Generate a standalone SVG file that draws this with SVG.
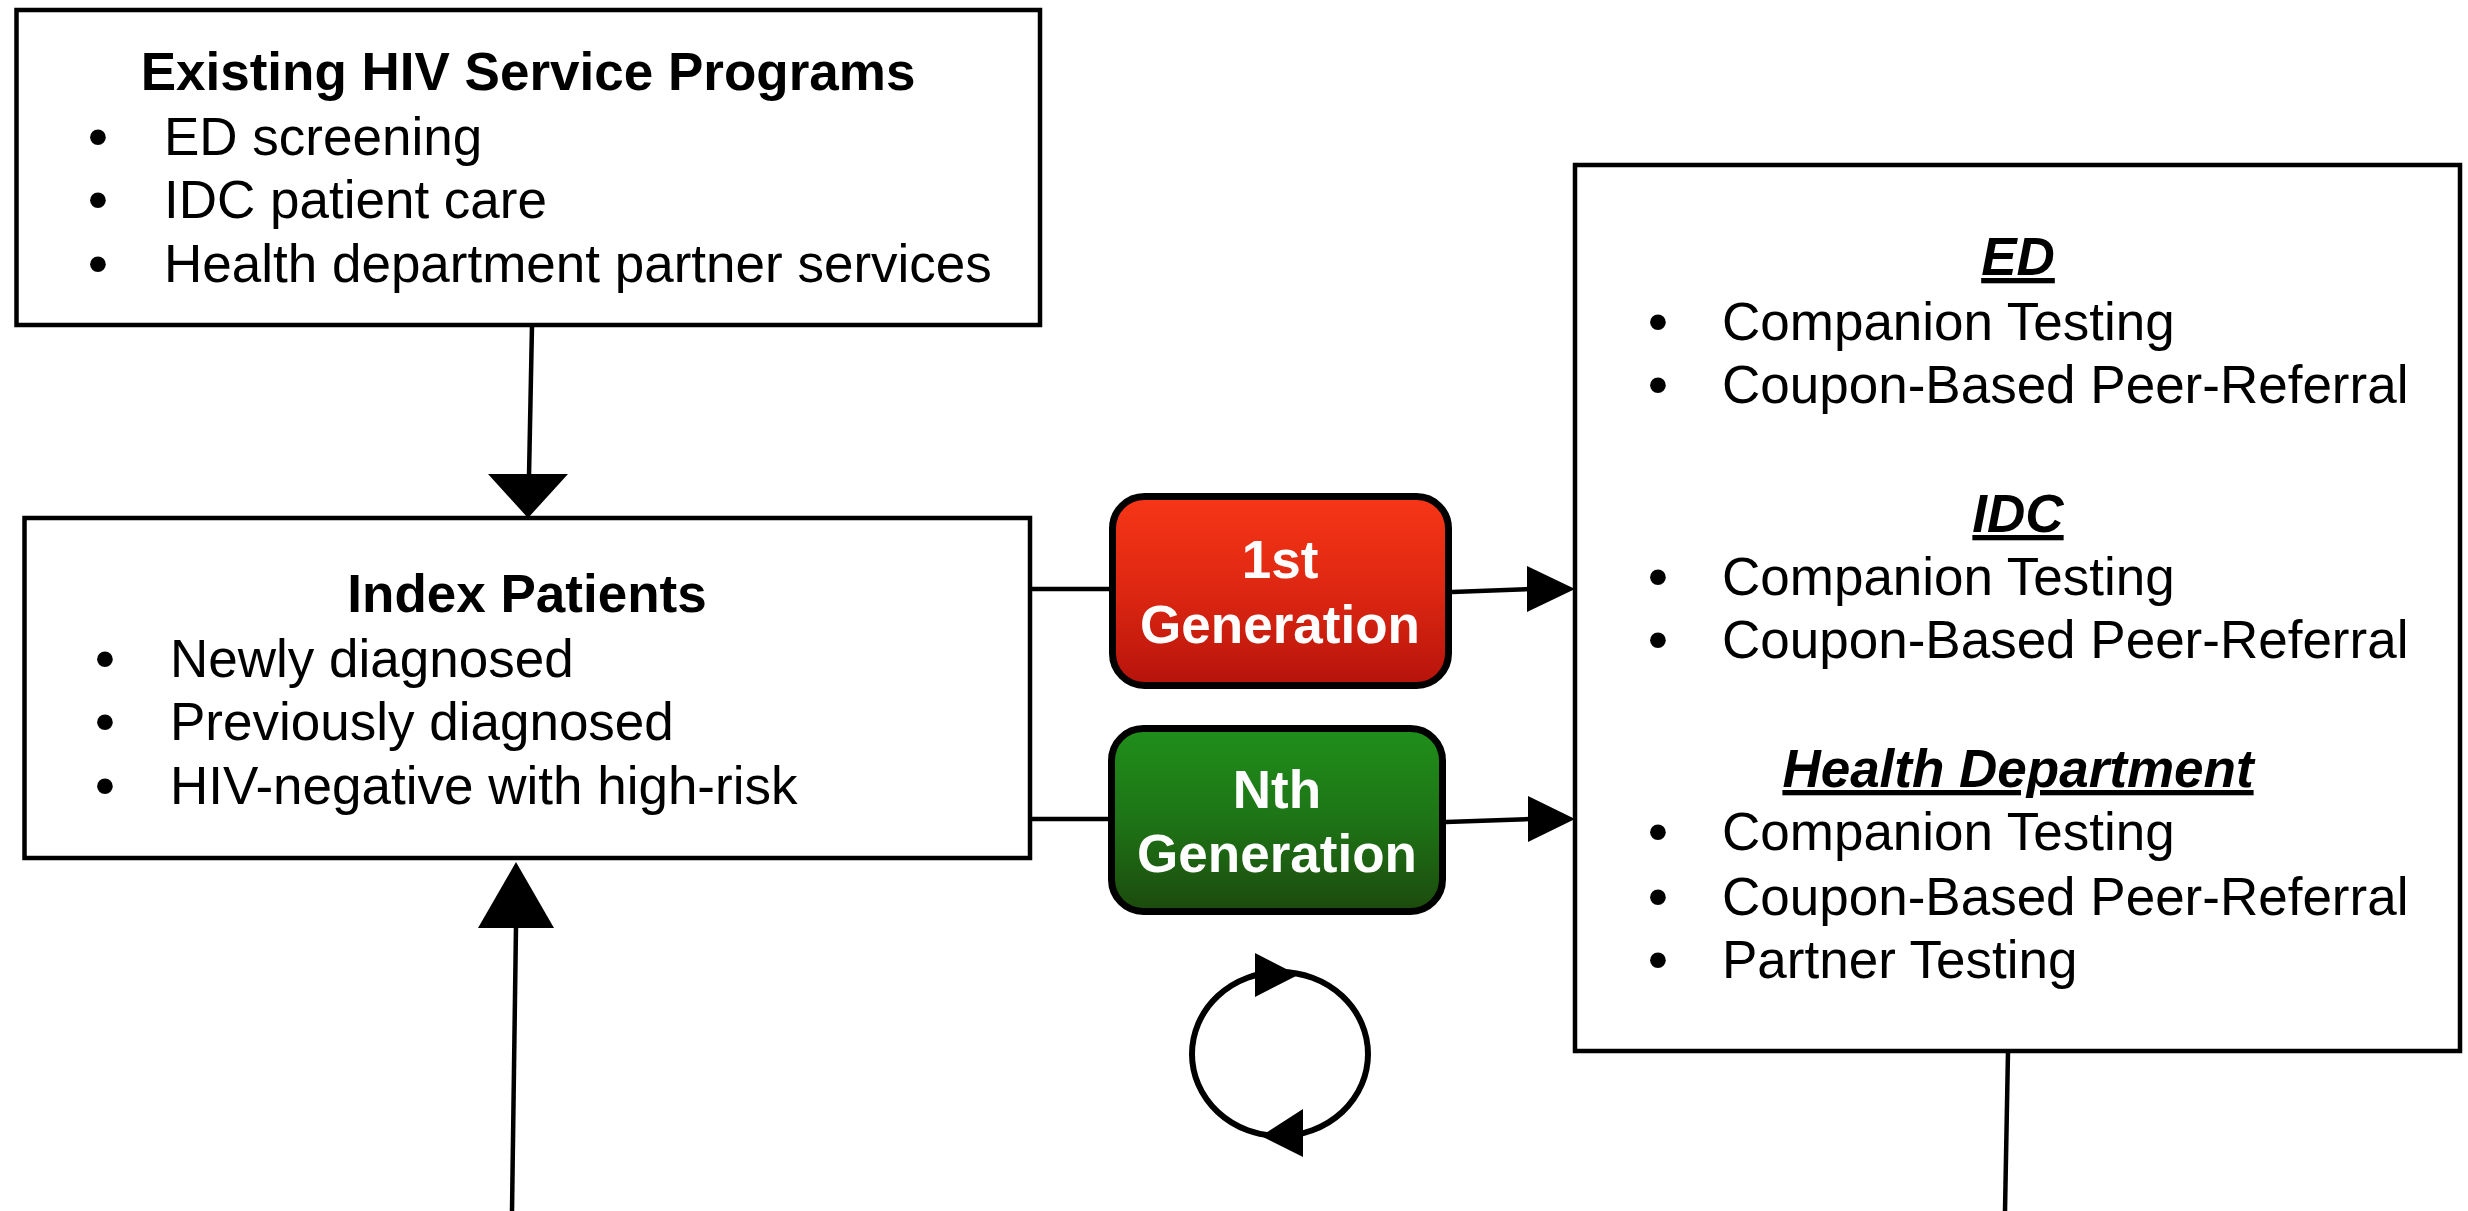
<svg xmlns="http://www.w3.org/2000/svg" width="2468" height="1211" viewBox="0 0 2468 1211">
  <defs>
    <linearGradient id="gRed" x1="0" y1="0" x2="0" y2="1">
      <stop offset="0" stop-color="#F73616"/>
      <stop offset="0.5" stop-color="#DD2712"/>
      <stop offset="1" stop-color="#B6130B"/>
    </linearGradient>
    <linearGradient id="gGreen" x1="0" y1="0" x2="0" y2="1">
      <stop offset="0" stop-color="#1F8F1A"/>
      <stop offset="0.5" stop-color="#1E7416"/>
      <stop offset="1" stop-color="#1C4A0D"/>
    </linearGradient>
    <linearGradient id="gFade" x1="0" y1="0" x2="1" y2="0">
      <stop offset="0" stop-color="#888888"/>
      <stop offset="1" stop-color="#ffffff"/>
    </linearGradient>
  </defs>
  <style>
    .box { fill: #ffffff; stroke: #000000; stroke-width: 4.5; }
    .gen { stroke: #000000; stroke-width: 7; }
    .t { font-family: "Liberation Sans", Arial, sans-serif; font-size: 53px; fill: #000000; }
    .bul { font-family: "DejaVu Sans", sans-serif; font-size: 54px; fill: #000000; }
    .b { font-weight: bold; }
    .hd { font-weight: bold; font-style: italic; text-decoration: underline; }
    .w { fill: #ffffff; font-weight: bold; }
    .mid { text-anchor: middle; }
    .ln { stroke: #000000; stroke-width: 4.5; fill: none; }
    .ah { fill: #000000; }
  </style>
  <rect width="2468" height="1211" fill="#ffffff"/>

  <g id="connectors">
    <line class="ln" x1="532" y1="325" x2="529" y2="476"/>
    <polygon class="ah" points="488,474 568,474 528,518"/>
    <line class="ln" x1="516" y1="926" x2="512" y2="1211"/>
    <polygon class="ah" points="478,928 554,928 516,862"/>
    <line x1="512" y1="1210" x2="730" y2="1210" stroke="url(#gFade)" stroke-width="2"/>
    <line class="ln" x1="1030" y1="589" x2="1110" y2="589"/>
    <line class="ln" x1="1452" y1="592" x2="1530" y2="589"/>
    <polygon class="ah" points="1527,566 1527,612 1575,589"/>
    <line class="ln" x1="1030" y1="819" x2="1109" y2="819"/>
    <line class="ln" x1="1446" y1="822" x2="1530" y2="819"/>
    <polygon class="ah" points="1528,796 1528,842 1575,819"/>
    <line class="ln" x1="2008" y1="1051" x2="2005" y2="1211"/>
    <ellipse cx="1280" cy="1054" rx="88" ry="82" fill="none" stroke="#000000" stroke-width="6"/>
    <polygon class="ah" points="1255,953 1255,997 1298,975"/>
    <polygon class="ah" points="1303,1109 1303,1157 1261,1136"/>
  </g>

  <g id="existing-programs">
    <rect class="box" x="16.5" y="10" width="1023.5" height="315"/>
    <text class="t b mid" x="528" y="90">Existing HIV Service Programs</text>
    <text class="bul" x="82" y="157">•</text>
    <text class="t" x="164" y="155">ED screening</text>
    <text class="bul" x="82" y="220">•</text>
    <text class="t" x="164" y="218">IDC patient care</text>
    <text class="bul" x="82" y="284">•</text>
    <text class="t" x="164" y="282">Health department partner services</text>
  </g>

  <g id="index-patients">
    <rect class="box" x="24.5" y="518" width="1005.5" height="340"/>
    <text class="t b mid" x="527" y="612">Index Patients</text>
    <text class="bul" x="89" y="679">•</text>
    <text class="t" x="170" y="677">Newly diagnosed</text>
    <text class="bul" x="89" y="742">•</text>
    <text class="t" x="170" y="740">Previously diagnosed</text>
    <text class="bul" x="89" y="806">•</text>
    <text class="t" x="170" y="804">HIV-negative with high-risk</text>
  </g>

  <g id="first-generation">
    <rect class="gen" x="1112.5" y="496.5" width="336" height="189" rx="32" ry="32" fill="url(#gRed)"/>
    <text class="t w mid" x="1280" y="578">1st</text>
    <text class="t w mid" x="1280" y="643">Generation</text>
  </g>

  <g id="nth-generation">
    <rect class="gen" x="1111.5" y="728.5" width="331" height="183" rx="32" ry="32" fill="url(#gGreen)"/>
    <text class="t w mid" x="1277" y="808">Nth</text>
    <text class="t w mid" x="1277" y="872">Generation</text>
  </g>

  <g id="interventions">
    <rect class="box" x="1575" y="165" width="885" height="886"/>
    <text class="t hd mid" x="2018" y="275">ED</text>
    <text class="bul" x="1642" y="342">•</text>
    <text class="t" x="1722" y="340">Companion Testing</text>
    <text class="bul" x="1642" y="405">•</text>
    <text class="t" x="1722" y="403">Coupon-Based Peer-Referral</text>
    <text class="t hd mid" x="2018" y="532">IDC</text>
    <text class="bul" x="1642" y="597">•</text>
    <text class="t" x="1722" y="595">Companion Testing</text>
    <text class="bul" x="1642" y="660">•</text>
    <text class="t" x="1722" y="658">Coupon-Based Peer-Referral</text>
    <text class="t hd mid" x="2018" y="787">Health Department</text>
    <text class="bul" x="1642" y="852">•</text>
    <text class="t" x="1722" y="850">Companion Testing</text>
    <text class="bul" x="1642" y="917">•</text>
    <text class="t" x="1722" y="915">Coupon-Based Peer-Referral</text>
    <text class="bul" x="1642" y="980">•</text>
    <text class="t" x="1722" y="978">Partner Testing</text>
  </g>
</svg>
